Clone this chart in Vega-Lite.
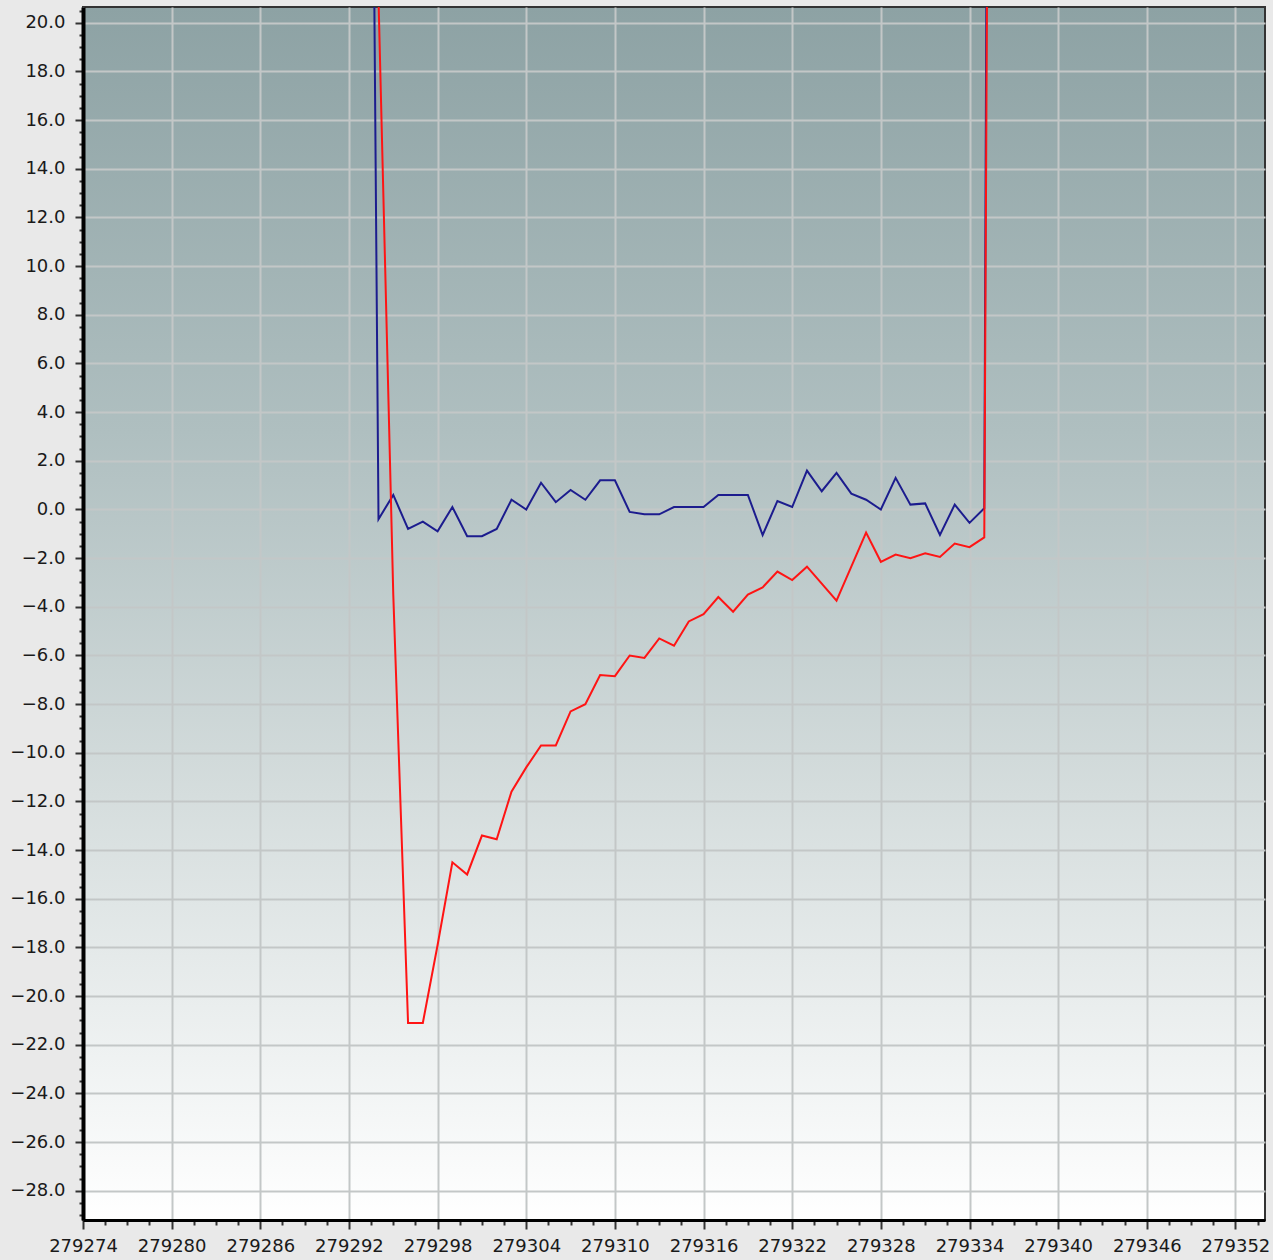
{
  "$schema": "https://vega.github.io/schema/vega-lite/v6.json",
  "width": 1182,
  "height": 1213,
  "autosize": {"type": "none"},
  "padding": {"left": 83, "top": 7, "right": 8, "bottom": 40},
  "background": "#e9e9e9",
  "config": {
    "view": {
      "stroke": "#333333",
      "strokeWidth": 2,
      "fill": {
        "gradient": "linear",
        "x1": 0, "y1": 0, "x2": 0, "y2": 1,
        "stops": [
          {"offset": 0, "color": "#8da2a4"},
          {"offset": 0.35, "color": "#afbfc0"},
          {"offset": 0.65, "color": "#d5dddd"},
          {"offset": 1, "color": "#ffffff"}
        ]
      }
    },
    "axis": {
      "labelFont": "DejaVu Sans",
      "labelFontSize": 18,
      "labelColor": "#1a1a1a",
      "domainColor": "#000000",
      "tickColor": "#333333",
      "gridColor": "#c3c7c7",
      "gridWidth": 2,
      "labelOverlap": false,
      "title": null
    }
  },
  "data": {
    "values": [
      {"t": 279293, "v": 75, "s": "Blue"},
      {"t": 279294, "v": -0.4, "s": "Blue"},
      {"t": 279295, "v": 0.6, "s": "Blue"},
      {"t": 279296, "v": -0.8, "s": "Blue"},
      {"t": 279297, "v": -0.5, "s": "Blue"},
      {"t": 279298, "v": -0.9, "s": "Blue"},
      {"t": 279299, "v": 0.1, "s": "Blue"},
      {"t": 279300, "v": -1.1, "s": "Blue"},
      {"t": 279301, "v": -1.1, "s": "Blue"},
      {"t": 279302, "v": -0.8, "s": "Blue"},
      {"t": 279303, "v": 0.4, "s": "Blue"},
      {"t": 279304, "v": 0.0, "s": "Blue"},
      {"t": 279305, "v": 1.1, "s": "Blue"},
      {"t": 279306, "v": 0.3, "s": "Blue"},
      {"t": 279307, "v": 0.8, "s": "Blue"},
      {"t": 279308, "v": 0.4, "s": "Blue"},
      {"t": 279309, "v": 1.2, "s": "Blue"},
      {"t": 279310, "v": 1.2, "s": "Blue"},
      {"t": 279311, "v": -0.1, "s": "Blue"},
      {"t": 279312, "v": -0.2, "s": "Blue"},
      {"t": 279313, "v": -0.2, "s": "Blue"},
      {"t": 279314, "v": 0.1, "s": "Blue"},
      {"t": 279315, "v": 0.1, "s": "Blue"},
      {"t": 279316, "v": 0.1, "s": "Blue"},
      {"t": 279317, "v": 0.6, "s": "Blue"},
      {"t": 279318, "v": 0.6, "s": "Blue"},
      {"t": 279319, "v": 0.6, "s": "Blue"},
      {"t": 279320, "v": -1.05, "s": "Blue"},
      {"t": 279321, "v": 0.35, "s": "Blue"},
      {"t": 279322, "v": 0.1, "s": "Blue"},
      {"t": 279323, "v": 1.6, "s": "Blue"},
      {"t": 279324, "v": 0.75, "s": "Blue"},
      {"t": 279325, "v": 1.5, "s": "Blue"},
      {"t": 279326, "v": 0.65, "s": "Blue"},
      {"t": 279327, "v": 0.4, "s": "Blue"},
      {"t": 279328, "v": 0.0, "s": "Blue"},
      {"t": 279329, "v": 1.3, "s": "Blue"},
      {"t": 279330, "v": 0.2, "s": "Blue"},
      {"t": 279331, "v": 0.25, "s": "Blue"},
      {"t": 279332, "v": -1.05, "s": "Blue"},
      {"t": 279333, "v": 0.2, "s": "Blue"},
      {"t": 279334, "v": -0.55, "s": "Blue"},
      {"t": 279335, "v": 0.05, "s": "Blue"},
      {"t": 279336, "v": 150, "s": "Blue"},
      {"t": 279293, "v": 90, "s": "Red"},
      {"t": 279294, "v": 21, "s": "Red"},
      {"t": 279295, "v": -3.5, "s": "Red"},
      {"t": 279296, "v": -21.1, "s": "Red"},
      {"t": 279297, "v": -21.1, "s": "Red"},
      {"t": 279298, "v": -17.9, "s": "Red"},
      {"t": 279299, "v": -14.5, "s": "Red"},
      {"t": 279300, "v": -15.0, "s": "Red"},
      {"t": 279301, "v": -13.4, "s": "Red"},
      {"t": 279302, "v": -13.55, "s": "Red"},
      {"t": 279303, "v": -11.6, "s": "Red"},
      {"t": 279304, "v": -10.6, "s": "Red"},
      {"t": 279305, "v": -9.7, "s": "Red"},
      {"t": 279306, "v": -9.7, "s": "Red"},
      {"t": 279307, "v": -8.3, "s": "Red"},
      {"t": 279308, "v": -8.0, "s": "Red"},
      {"t": 279309, "v": -6.8, "s": "Red"},
      {"t": 279310, "v": -6.85, "s": "Red"},
      {"t": 279311, "v": -6.0, "s": "Red"},
      {"t": 279312, "v": -6.1, "s": "Red"},
      {"t": 279313, "v": -5.3, "s": "Red"},
      {"t": 279314, "v": -5.6, "s": "Red"},
      {"t": 279315, "v": -4.6, "s": "Red"},
      {"t": 279316, "v": -4.3, "s": "Red"},
      {"t": 279317, "v": -3.6, "s": "Red"},
      {"t": 279318, "v": -4.2, "s": "Red"},
      {"t": 279319, "v": -3.5, "s": "Red"},
      {"t": 279320, "v": -3.2, "s": "Red"},
      {"t": 279321, "v": -2.55, "s": "Red"},
      {"t": 279322, "v": -2.9, "s": "Red"},
      {"t": 279323, "v": -2.35, "s": "Red"},
      {"t": 279324, "v": -3.05, "s": "Red"},
      {"t": 279325, "v": -3.75, "s": "Red"},
      {"t": 279326, "v": -2.35, "s": "Red"},
      {"t": 279327, "v": -0.95, "s": "Red"},
      {"t": 279328, "v": -2.15, "s": "Red"},
      {"t": 279329, "v": -1.85, "s": "Red"},
      {"t": 279330, "v": -2.0, "s": "Red"},
      {"t": 279331, "v": -1.8, "s": "Red"},
      {"t": 279332, "v": -1.95, "s": "Red"},
      {"t": 279333, "v": -1.4, "s": "Red"},
      {"t": 279334, "v": -1.55, "s": "Red"},
      {"t": 279335, "v": -1.15, "s": "Red"},
      {"t": 279336, "v": 120, "s": "Red"}
    ]
  },
  "mark": {"type": "line", "strokeWidth": 2, "clip": true, "interpolate": "linear"},
  "encoding": {
    "x": {
      "field": "t",
      "type": "quantitative",
      "scale": {"domain": [279274, 279354], "nice": false, "zero": false},
      "axis": {
        "values": [279274, 279275.5, 279277, 279278.5, 279280, 279281.5, 279283, 279284.5, 279286, 279287.5, 279289, 279290.5, 279292, 279293.5, 279295, 279296.5, 279298, 279299.5, 279301, 279302.5, 279304, 279305.5, 279307, 279308.5, 279310, 279311.5, 279313, 279314.5, 279316, 279317.5, 279319, 279320.5, 279322, 279323.5, 279325, 279326.5, 279328, 279329.5, 279331, 279332.5, 279334, 279335.5, 279337, 279338.5, 279340, 279341.5, 279343, 279344.5, 279346, 279347.5, 279349, 279350.5, 279352, 279353.5],
        "labelExpr": "abs((datum.value - 279274) % 6) < 0.01 ? format(datum.value, 'd') : ''",
        "domainWidth": 3,
        "tickSize": {"condition": {"test": "abs((datum.value - 279274) % 6) < 0.01", "value": 9}, "value": 5},
        "tickWidth": 2,
        "gridOpacity": {"condition": {"test": "abs((datum.value - 279274) % 6) < 0.01", "value": 1}, "value": 0},
        "labelPadding": 8,
        "labelFlush": false
      }
    },
    "y": {
      "field": "v",
      "type": "quantitative",
      "scale": {"domain": [-29.2, 20.65], "nice": false, "zero": false},
      "axis": {
        "values": [-29, -28.5, -28, -27.5, -27, -26.5, -26, -25.5, -25, -24.5, -24, -23.5, -23, -22.5, -22, -21.5, -21, -20.5, -20, -19.5, -19, -18.5, -18, -17.5, -17, -16.5, -16, -15.5, -15, -14.5, -14, -13.5, -13, -12.5, -12, -11.5, -11, -10.5, -10, -9.5, -9, -8.5, -8, -7.5, -7, -6.5, -6, -5.5, -5, -4.5, -4, -3.5, -3, -2.5, -2, -1.5, -1, -0.5, 0, 0.5, 1, 1.5, 2, 2.5, 3, 3.5, 4, 4.5, 5, 5.5, 6, 6.5, 7, 7.5, 8, 8.5, 9, 9.5, 10, 10.5, 11, 11.5, 12, 12.5, 13, 13.5, 14, 14.5, 15, 15.5, 16, 16.5, 17, 17.5, 18, 18.5, 19, 19.5, 20, 20.5],
        "labelExpr": "abs(datum.value % 2) < 0.01 ? format(datum.value, '.1f') : ''",
        "domainWidth": 4,
        "tickSize": {"condition": {"test": "abs(datum.value % 2) < 0.01", "value": 8}, "value": 4},
        "tickWidth": 2,
        "gridOpacity": {"condition": {"test": "abs(datum.value % 2) < 0.01", "value": 1}, "value": 0},
        "labelPadding": 10
      }
    },
    "color": {
      "field": "s",
      "type": "nominal",
      "scale": {"domain": ["Blue", "Red"], "range": ["#1c1c8e", "#ff1414"]},
      "legend": null
    }
  }
}
